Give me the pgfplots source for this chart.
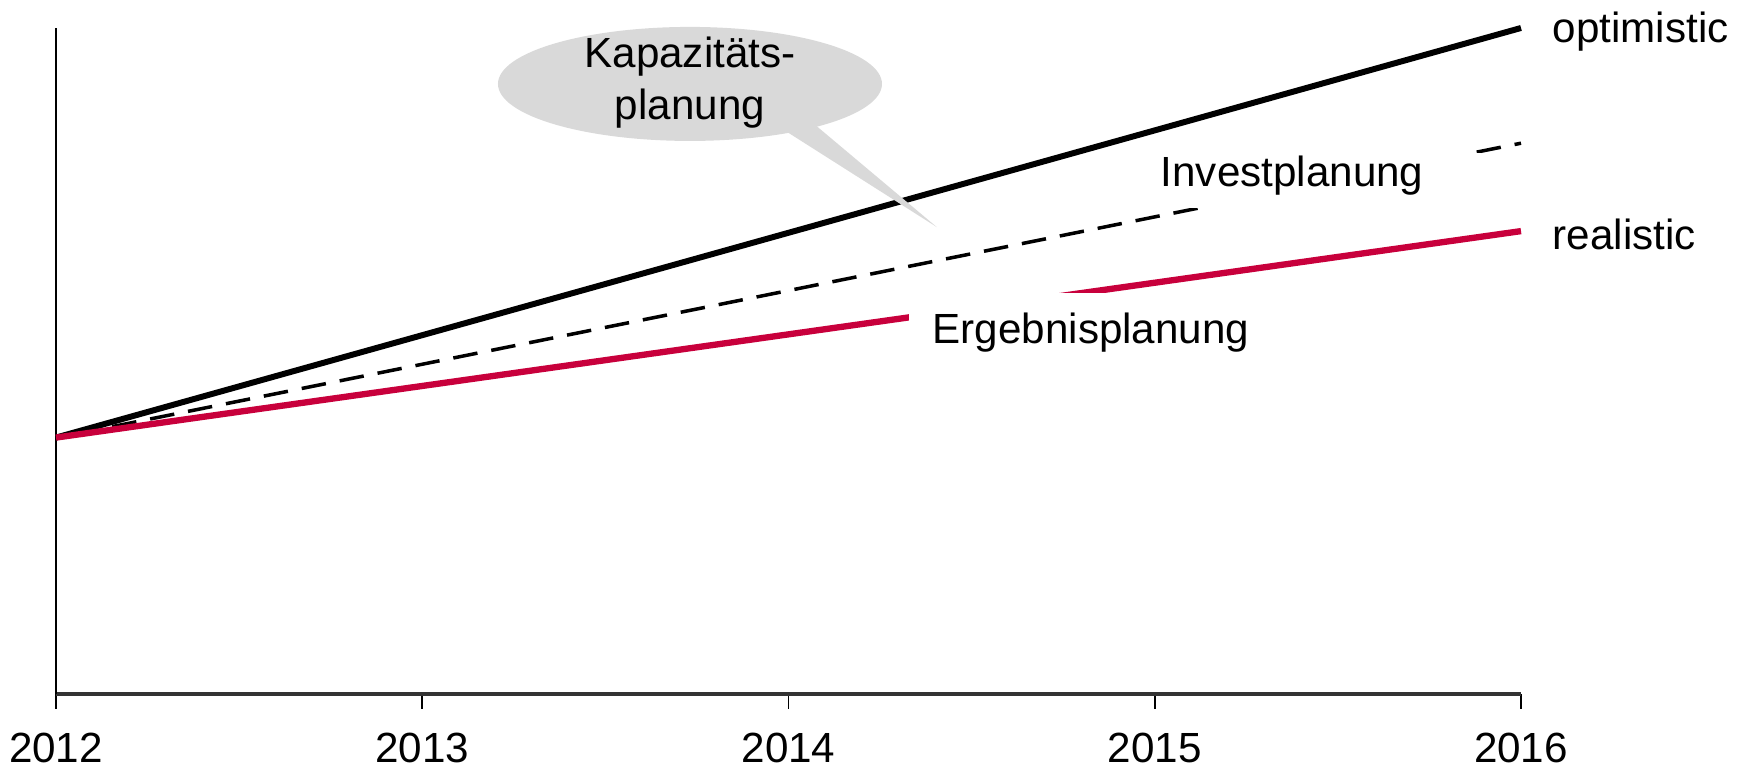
\documentclass[border=0pt]{standalone}
\usepackage{fontspec}
\setmainfont{Liberation Sans}
\usepackage{pgfplots}
\pgfplotsset{compat=1.18}
\definecolor{redline}{HTML}{C8003C}
\definecolor{bubble}{HTML}{D9D9D9}
\begin{document}
\begin{tikzpicture}[font=\fontsize{12}{14}\selectfont]
\useasboundingbox (0,0) rectangle (17.5cm,7.69cm);
\begin{axis}[
at={(0.56cm,0.75cm)},
anchor=south west,
scale only axis,
width=14.65cm,
height=6.66cm,
xmin=2012,
xmax=2016,
ymin=0,
ymax=100,
axis x line*=bottom,
axis y line*=left,
ytick=\empty,
xtick={2012,2013,2014,2015,2016},
xticklabels={2012,2013,2014,2015,2016},
tick align=outside,
major tick length=0.15cm,
x axis line style={black!80,line width=1pt},
y axis line style={black,line width=0.6pt},
xtick style={black,line width=0.5pt},
xticklabel style={yshift=-0.12cm},
clip=false
]
\addplot[no marks,black,line width=1.7pt] coordinates {(2012,38.5) (2016,100)};
\addplot[no marks,black,line width=1pt,dash pattern=on 7pt off 4pt] coordinates {(2012.05,39.0) (2016,82.7)};
\addplot[no marks,redline,line width=1.8pt] coordinates {(2012,38.5) (2016,69.5)};

% white boxes behind the labels
\fill[white] (axis cs:2014.99,73.0) rectangle (axis cs:2015.89,81.2);
\fill[white] (axis cs:2014.33,49.0) rectangle (axis cs:2015.29,60.2);

\node at (axis cs:2015.375,77.8) {Investplanung};
\node at (axis cs:2014.826,54.2) {Ergebnisplanung};
\node[anchor=west,inner sep=0pt] at ([xshift=0.31cm]axis cs:2016,99.5) {optimistic};
\node[anchor=west,inner sep=0pt] at ([xshift=0.31cm]axis cs:2016,69.0) {realistic};

% speech bubble
\fill[bubble] (axis cs:2013.95,86) -- (axis cs:2014.405,70.1) -- (axis cs:2014.05,86.5) -- cycle;
\fill[bubble] (axis cs:2013.731,91.6) ellipse [x radius=1.92cm,y radius=0.57cm];
\node[align=center] at (axis cs:2013.731,91.8) {Kapazitäts-\\[1pt]planung};
\end{axis}
\end{tikzpicture}
\end{document}
